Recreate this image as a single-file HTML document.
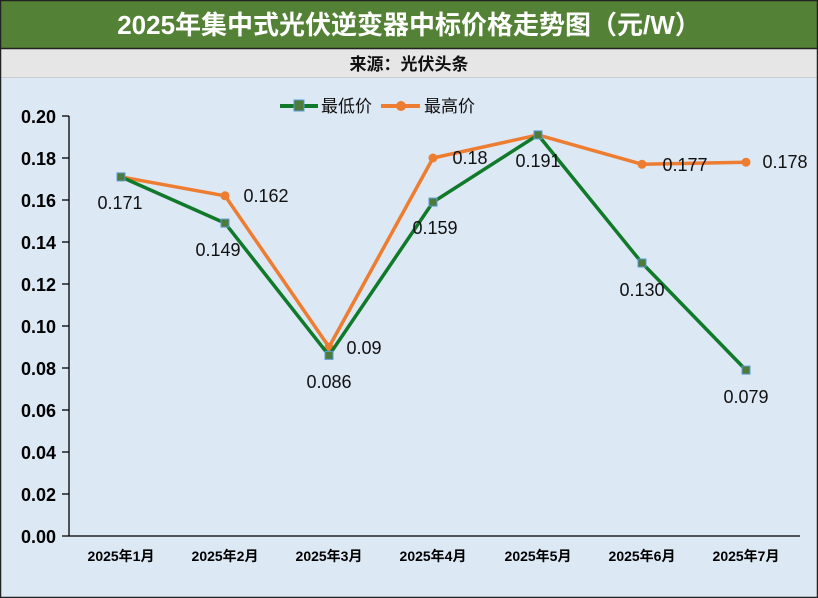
<!DOCTYPE html>
<html><head><meta charset="utf-8"><style>
body{margin:0;width:818px;height:598px;overflow:hidden;background:#dde8f5;font-family:"Liberation Sans","Noto Sans CJK SC",sans-serif}
</style></head><body>
<svg width="818" height="598" xmlns="http://www.w3.org/2000/svg" style="position:absolute;left:0;top:0">
<rect x="0" y="0" width="818" height="598" fill="#dde8f5"/>
<rect x="0" y="0" width="818" height="48" fill="#538135"/>
<rect x="0" y="48" width="818" height="30" fill="#e7e6e6"/>
<line x1="0" y1="48.5" x2="818" y2="48.5" stroke="#222" stroke-width="1.5"/>
<line x1="0" y1="77.5" x2="818" y2="77.5" stroke="#ccc" stroke-width="1"/>
<rect x="0.5" y="0.5" width="817" height="597" fill="none" stroke="#222" stroke-width="1.5"/>
<text x="409" y="34" text-anchor="middle" font-size="26" font-weight="bold" fill="#fff">2025年集中式光伏逆变器中标价格走势图（元/W）</text>
<text x="409" y="70" text-anchor="middle" font-size="17" font-weight="bold" fill="#111">来源：光伏头条</text>
<g font-size="17" fill="#111">
<line x1="280" y1="106" x2="318" y2="106" stroke="#107a2a" stroke-width="4"/>
<rect x="294" y="100" width="10" height="11" fill="#4e7a3a" stroke="#5b9bd5"/>
<text x="321" y="112">最低价</text>
<line x1="381" y1="106" x2="420" y2="106" stroke="#ed7d31" stroke-width="4"/>
<circle cx="401" cy="106" r="5" fill="#ed7d31"/>
<text x="424" y="112">最高价</text>
</g>
<g stroke="#000" stroke-width="1.3">
<line x1="69" y1="116" x2="69" y2="536"/>
<line x1="62" y1="536" x2="800" y2="536"/>
<line x1="62" y1="116" x2="69" y2="116"/><line x1="62" y1="158" x2="69" y2="158"/><line x1="62" y1="200" x2="69" y2="200"/><line x1="62" y1="242" x2="69" y2="242"/><line x1="62" y1="284" x2="69" y2="284"/><line x1="62" y1="326" x2="69" y2="326"/><line x1="62" y1="368" x2="69" y2="368"/><line x1="62" y1="410" x2="69" y2="410"/><line x1="62" y1="452" x2="69" y2="452"/><line x1="62" y1="494" x2="69" y2="494"/>
</g>
<g font-size="18" font-weight="bold" text-anchor="end" fill="#000">
<text x="56" y="123">0.20</text><text x="56" y="165">0.18</text><text x="56" y="207">0.16</text><text x="56" y="249">0.14</text><text x="56" y="291">0.12</text><text x="56" y="333">0.10</text><text x="56" y="375">0.08</text><text x="56" y="417">0.06</text><text x="56" y="459">0.04</text><text x="56" y="501">0.02</text><text x="56" y="543">0.00</text>
</g>
<g font-size="14" font-weight="bold" text-anchor="middle" fill="#000">
<text x="121" y="561">2025年1月</text><text x="225" y="561">2025年2月</text><text x="329" y="561">2025年3月</text><text x="433" y="561">2025年4月</text><text x="538" y="561">2025年5月</text><text x="642" y="561">2025年6月</text><text x="746" y="561">2025年7月</text>
</g>
<polyline fill="none" stroke="#ed7d31" stroke-width="3.5" stroke-linejoin="round" points="121,176.9 225,195.8 329,347 433,158 538,134.9 642,164.3 746,162.2"/>
<g fill="#ed7d31">
<circle cx="121" cy="176.9" r="4.5"/><circle cx="225" cy="195.8" r="4.5"/><circle cx="329" cy="347" r="4.5"/><circle cx="433" cy="158" r="4.5"/><circle cx="538" cy="134.9" r="4.5"/><circle cx="642" cy="164.3" r="4.5"/><circle cx="746" cy="162.2" r="4.5"/>
</g>
<polyline fill="none" stroke="#107a2a" stroke-width="3.5" stroke-linejoin="round" points="121,176.9 225,223.1 329,355.4 433,202.1 538,134.9 642,263 746,370.1"/>
<g fill="#4e7a3a" stroke="#5b9bd5" stroke-width="1">
<rect x="117" y="172.9" width="8" height="8"/><rect x="221" y="219.1" width="8" height="8"/><rect x="325" y="351.4" width="8" height="8"/><rect x="429" y="198.1" width="8" height="8"/><rect x="534" y="130.9" width="8" height="8"/><rect x="638" y="259" width="8" height="8"/><rect x="742" y="366.1" width="8" height="8"/>
</g>
<g font-size="18" fill="#111" text-anchor="middle">
<text x="120" y="209">0.171</text><text x="218" y="256">0.149</text><text x="329" y="388">0.086</text><text x="435" y="234">0.159</text><text x="538" y="167">0.191</text><text x="642" y="296">0.130</text><text x="746" y="403">0.079</text>
<text x="266" y="202">0.162</text><text x="364" y="354">0.09</text><text x="470" y="164">0.18</text><text x="685" y="171">0.177</text><text x="785" y="168">0.178</text>
</g>
</svg>
</body></html>
